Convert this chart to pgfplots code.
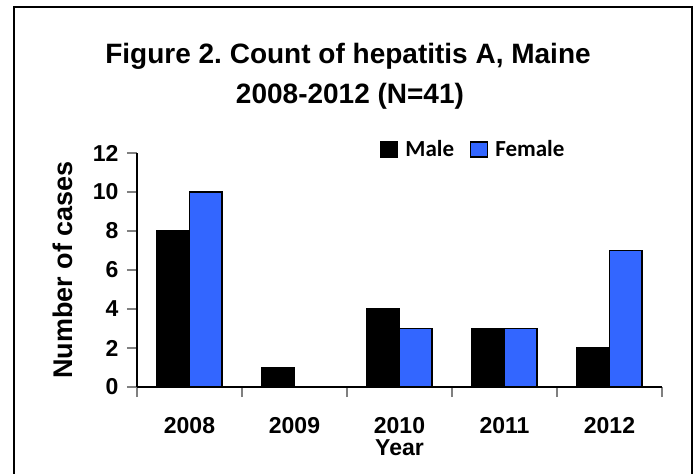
\documentclass[border=0pt]{standalone}
\usepackage{pgfplots}
\pgfplotsset{compat=1.18}
\usepackage{fontspec}
\setmainfont{Liberation Sans}
\newfontfamily\calibri{Carlito}
\definecolor{fem}{HTML}{3366FF}
\frenchspacing
\pgfplotstableread{
x male female
0 8 10
1 1 0
2 4 3
3 3 3
4 2 7
}\datatable
\begin{document}
\begin{tikzpicture}
\path[use as bounding box] (0,0) rectangle (696bp,-474bp);
\draw[line width=1.6bp] (14bp,-7bp) rectangle (692bp,-480bp);
\node[anchor=base, font=\bfseries\fontsize{28bp}{28bp}\selectfont] at (348bp,-63bp) {Figure 2. Count of hepatitis A, Maine};
\node[anchor=base, font=\bfseries\fontsize{28bp}{28bp}\selectfont] at (350bp,-103bp) {2008-2012 (N=41)};
\begin{axis}[
  at={(137bp,-387bp)}, anchor=south west,
  scale only axis, width=525bp, height=234bp,
  xmin=-0.5, xmax=4.5, ymin=0, ymax=12,
  axis lines*=left,
  axis line style={line width=1.6bp},
  xtick={0,1,2,3,4},
  xticklabels={2008,2009,2010,2011,2012},
  major x tick style={draw=none},
  minor xtick={-0.5,0.5,1.5,2.5,3.5,4.5},
  minor x tick style={line width=1.6bp},
  minor tick length=10bp,
  ytick={0,2,4,6,8,10,12},
  y tick style={line width=1.6bp},
  major tick length=10bp,
  tick align=outside,
  /pgf/number format/assume math mode=true,
  ticklabel style={font=\bfseries\fontsize{23bp}{23bp}\selectfont},
  xticklabel style={yshift=-17bp},
  yticklabel style={xshift=-5bp},
  xlabel={Year},
  every axis x label/.style={at={(rel axis cs:0.5,0)}, anchor=base, yshift=-68bp,
    font=\bfseries\fontsize{23bp}{23bp}\selectfont},
  ylabel={Number of cases},
  every axis y label/.style={at={(rel axis cs:-0.141,0.5)}, rotate=90, anchor=center,
    font=\bfseries\fontsize{27bp}{27bp}\selectfont},
  ybar, bar width=0.31,
  legend columns=2,
  legend style={draw=none, fill=none, at={(0.463,1.015)}, anchor=west,
    font=\calibri\bfseries\fontsize{23bp}{23bp}\selectfont,
    inner sep=0pt, /tikz/every even column/.append style={column sep=14bp},
    /tikz/every odd column/.append style={column sep=5bp}},
  legend image code/.code={\draw[#1, line width=1.2bp] (0bp,-7.5bp) rectangle (17bp,7.5bp);},
  clip=false,
]
\addplot[draw=black, fill=black, line width=1.2bp, bar shift=-0.155] table[x=x, y=male] {\datatable};
\addlegendentry{Male}
\addplot[draw=black, fill=fem, line width=1.2bp, bar shift=0.155] table[x=x, y=female] {\datatable};
\addlegendentry{Female}
\end{axis}
\end{tikzpicture}
\end{document}
